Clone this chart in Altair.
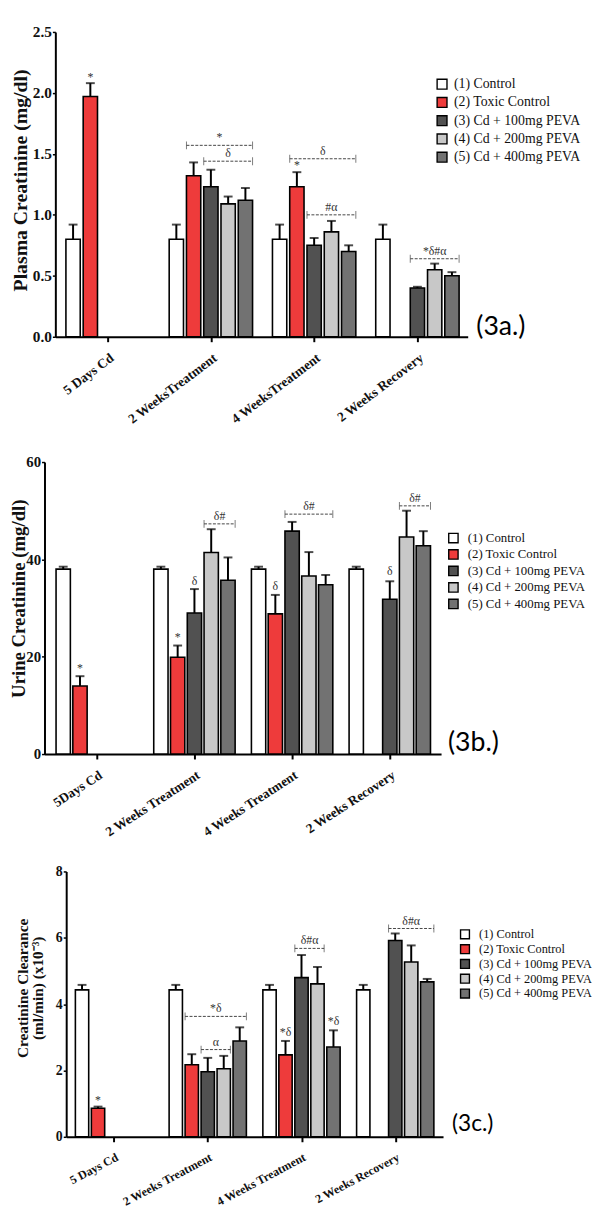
import json
import altair as alt
import pandas as pd

SERIF = "Liberation Serif"

series = ["(1) Control", "(2) Toxic Control", "(3) Cd + 100mg PEVA",
          "(4) Cd + 200mg PEVA", "(5) Cd + 400mg PEVA"]
series_fill = ["#ffffff", "#ee3b3b", "#515151", "#c8c8c8", "#727272"]

# ---------------- Panel 3a : Plasma creatinine ----------------
groups_a = ["5 Days Cd", "2 WeeksTreatment", "4 WeeksTreatment", "2 Weeks Recovery"]
mean_a = [
    [0.80, 0.80, 0.80, 0.80],
    [1.97, 1.32, 1.23, None],
    [None, 1.23, 0.75, 0.40],
    [None, 1.09, 0.86, 0.55],
    [None, 1.12, 0.70, 0.50],
]
sem_a = [
    [0.12, 0.12, 0.12, 0.12],
    [0.11, 0.11, 0.12, None],
    [None, 0.14, 0.06, 0.01],
    [None, 0.06, 0.09, 0.05],
    [None, 0.10, 0.05, 0.03],
]
# (group, bar, y, text)
marks_a = [(0, 1, 2.13, "*"), (2, 1, 1.41, "*")]
# (group, first bar, last bar, y, text)
brackets_a = [(1, 1, 4, 1.57, "*"), (1, 2, 4, 1.44, "δ"), (2, 1, 4, 1.46, "δ"),
              (2, 2, 4, 1.00, "#α"), (3, 2, 4, 0.64, "*δ#α")]

# ---------------- Panel 3b : Urine creatinine ----------------
groups_b = ["5Days Cd", "2 Weeks Treatment", "4 Weeks Treatment", "2 Weeks Recovery"]
mean_b = [
    [38.0, 38.0, 38.0, 38.0],
    [14.0, 19.9, 28.8, None],
    [None, 29.0, 45.8, 31.8],
    [None, 41.4, 36.6, 44.6],
    [None, 35.7, 34.8, 42.8],
]
sem_b = [
    [0.5, 0.5, 0.5, 0.5],
    [2.0, 2.4, 3.9, None],
    [None, 4.9, 1.9, 3.7],
    [None, 4.8, 4.9, 5.4],
    [None, 4.7, 2.0, 3.0],
]
marks_b = [(0, 1, 17.6, "*"), (1, 1, 24.0, "*"), (1, 2, 35.6, "δ"),
           (2, 1, 34.6, "δ"), (3, 2, 37.6, "δ")]
brackets_b = [(1, 3, 4, 47.3, "δ#"), (2, 2, 4, 49.3, "δ#"), (3, 3, 4, 51.0, "δ#")]

# ---------------- Panel 3c : Creatinine clearance ----------------
groups_c = ["5 Days Cd", "2 Weeks Treatment", "4 Weeks Treatment", "2 Weeks Recovery"]
mean_c = [
    [4.43, 4.43, 4.43, 4.43],
    [0.86, 2.17, 2.47, None],
    [None, 1.96, 4.80, 5.92],
    [None, 2.05, 4.61, 5.27],
    [None, 2.89, 2.71, 4.67],
]
sem_c = [
    [0.15, 0.15, 0.15, 0.15],
    [0.05, 0.32, 0.42, None],
    [None, 0.42, 0.68, 0.21],
    [None, 0.39, 0.51, 0.50],
    [None, 0.41, 0.50, 0.09],
]
marks_c = [(0, 1, 1.12, "*"), (2, 1, 3.15, "*δ"), (2, 4, 3.50, "*δ")]
brackets_c = [(1, 1, 4, 3.63, "*δ"), (1, 2, 3, 2.63, "α"),
              (2, 2, 3, 5.68, "δ#α"), (3, 2, 4, 6.28, "δ#α")]

# ---------------- layout settings per panel ----------------
PA = dict(width=418, height=309, xdom=[-0.006, 3.987], group_px=104.67, step_px=17.5, bar_px=14.5,
          ymax=2.5, yticks=[0, 0.5, 1, 1.5, 2, 2.5], yfmt=".1f",
          ytitle="Plasma Creatinine (mg/dl)", ytitleFS=20, titleX=-35, titleY=150, titleLH=18,
          ylabFS=15.5, xlabFS=13.6, xangle=323,
          legX=433, legY=46, legFS=14, symS=100, rowPad=2.5, labOff=5,
          lab="(3a.)", labFS=27, lab_x=4.07, lab_y=0.08, sp_w=2, sp_h=429)
PB = dict(width=402, height=296, xdom=[-0.035, 4.025], group_px=99, step_px=17, bar_px=14.5,
          ymax=60, yticks=[0, 20, 40, 60], yfmt="d",
          ytitle="Urine Creatinine (mg/dl)", ytitleFS=19, titleX=-26.5, titleY=138, titleLH=19,
          ylabFS=15, xlabFS=13.5, xangle=327,
          legX=445, legY=70.5, legFS=13, symS=90, rowPad=-0.3, labOff=8,
          lab="(3b.)", labFS=27, lab_x=4.096, lab_y=2.2, sp_w=1, sp_h=408)
PC = dict(width=382, height=269, xdom=[-0.01, 4.01], group_px=95, step_px=16.2, bar_px=13.5,
          ymax=8, yticks=[0, 2, 4, 6, 8], yfmt="d",
          ytitle=["Creatinine Clearance", "(ml/min) (x10⁻³)"], ytitleFS=15.5, titleX=-44,
          titleY=118, titleLH=15,
          ylabFS=14, xlabFS=12.2, xangle=332,
          legX=457, legY=57.5, legFS=12.5, symS=81, rowPad=-1, labOff=8,
          lab="(3c.)", labFS=23, lab_x=4.105, lab_y=0.39, sp_w=8, sp_h=1)


def long_table(means, sems):
    rows = []
    for b, name in enumerate(series):
        for g in range(4):
            m = means[b][g]
            if m is None:
                continue
            rows.append({"g": g, "b": b, "series": name, "mean": m, "upper": m + sems[b][g]})
    return pd.DataFrame(rows)


def panel(groups, means, sems, marks, brackets, P):
    G = P["group_px"]
    S = P["step_px"] / G
    W = P["bar_px"] / G
    xscale = alt.Scale(domain=P["xdom"], nice=False, zero=False)
    yscale = alt.Scale(domain=[0, P["ymax"]], nice=False, zero=True)

    xaxis = alt.Axis(
        values=[0.5, 1.5, 2.5, 3.5],
        labelExpr=json.dumps(groups) + "[floor(datum.value)]",
        title=None, grid=False, labelAngle=P["xangle"], labelAlign="right", labelBaseline="top",
        labelFont=SERIF, labelFontWeight="bold", labelFontSize=P["xlabFS"], labelColor="#111",
        labelPadding=9, labelOverlap=False, labelFlush=False,
        tickSize=5, tickWidth=2, tickColor="black", domainColor="black", domainWidth=2,
    )
    yaxis = alt.Axis(
        values=P["yticks"], format=P["yfmt"], grid=False,
        labelFont=SERIF, labelFontWeight="bold", labelFontSize=P["ylabFS"], labelColor="#111",
        labelPadding=1, tickSize=3, tickWidth=1.5, tickColor="black",
        domainColor="black", domainWidth=2,
        title=P["ytitle"], titleFont=SERIF, titleFontWeight="bold", titleFontSize=P["ytitleFS"],
        titleColor="#111", titleAngle=270, titleAlign="center", titleBaseline="middle",
        titleX=P["titleX"], titleY=P["titleY"], titleLineHeight=P["titleLH"],
    )

    def X(f):
        return alt.X(f, type="quantitative", scale=xscale, axis=xaxis)

    def Y(f):
        return alt.Y(f, type="quantitative", scale=yscale, axis=yaxis)

    legend = alt.Legend(
        title=None, orient="none", legendX=P["legX"], legendY=P["legY"],
        labelFont=SERIF, labelFontSize=P["legFS"], labelColor="#111", labelLimit=400,
        symbolType="square", symbolSize=P["symS"], symbolStrokeColor="black",
        symbolStrokeWidth=1.4, rowPadding=P["rowPad"], labelOffset=P["labOff"], padding=0,
    )

    df = long_table(means, sems)
    base = alt.Chart(df).transform_calculate(
        xc=f"datum.g + 0.5 + (datum.b - 2) * {S}",
        x0=f"datum.xc - {W / 2}",
        x1=f"datum.xc + {W / 2}",
        base="0",
    )

    bars = base.mark_bar(stroke="black", strokeWidth=1.6).encode(
        x=X("x0"),
        x2="x1:Q",
        y=Y("mean"),
        y2="base:Q",
        fill=alt.Fill("series:N", scale=alt.Scale(domain=series, range=series_fill), legend=legend),
    )
    err = base.mark_rule(color="black", strokeWidth=2).encode(x=X("xc"), y=Y("mean"), y2="upper:Q")
    caps = base.mark_tick(color="black", orient="horizontal", size=9, thickness=2).encode(
        x=X("xc"), y=Y("upper"))

    bdf = pd.DataFrame(brackets, columns=["g", "bs", "be", "y", "text"])
    bbase = alt.Chart(bdf).transform_calculate(
        xs=f"datum.g + 0.5 + (datum.bs - 2) * {S} - {W / 2}",
        xe=f"datum.g + 0.5 + (datum.be - 2) * {S} + {W / 2}",
        xm="(datum.xs + datum.xe) / 2",
    )
    bline = bbase.mark_rule(color="#444", strokeWidth=1, strokeDash=[3, 1.5]).encode(
        x=X("xs"), x2="xe:Q", y=Y("y"))
    bend1 = bbase.mark_tick(color="#444", orient="vertical", size=8, thickness=1).encode(
        x=X("xs"), y=Y("y"))
    bend2 = bbase.mark_tick(color="#444", orient="vertical", size=8, thickness=1).encode(
        x=X("xe"), y=Y("y"))
    btext = bbase.mark_text(font=SERIF, fontSize=12, color="#333", baseline="bottom", dy=-1).encode(
        x=X("xm"), y=Y("y"), text="text:N")

    mdf = pd.DataFrame(marks, columns=["g", "b", "y", "text"])
    mtext = alt.Chart(mdf).transform_calculate(
        xc=f"datum.g + 0.5 + (datum.b - 2) * {S}"
    ).mark_text(font=SERIF, fontSize=12, color="#333", baseline="middle").encode(
        x=X("xc"), y=Y("y"), text="text:N")

    ldf = pd.DataFrame({"x": [P["lab_x"]], "y": [P["lab_y"]], "t": [P["lab"]]})
    ltext = alt.Chart(ldf).mark_text(font="Lato", fontSize=P["labFS"], color="black",
                                     align="left", baseline="middle").encode(
        x=X("x"), y=Y("y"), text="t:N")

    return alt.layer(bars, err, caps, bline, bend1, bend2, btext, mtext, ltext).properties(
        width=P["width"], height=P["height"])


def spacer(w, h):
    return alt.Chart(pd.DataFrame({"s": [""]})).mark_text().encode(text="s:N").properties(
        width=w, height=h)


def row(ch, P):
    return alt.hconcat(spacer(P["sp_w"], P["sp_h"]), ch, spacing=0)


pa = panel(groups_a, mean_a, sem_a, marks_a, brackets_a, PA)
pb = panel(groups_b, mean_b, sem_b, marks_b, brackets_b, PB)
pc = panel(groups_c, mean_c, sem_c, marks_c, brackets_c, PC)

chart = alt.vconcat(
    row(pa, PA), row(pb, PB), row(pc, PC),
    spacing=0,
).resolve_scale(fill="independent").resolve_legend(fill="independent").properties(
    padding={"left": 0, "top": 9, "right": 0, "bottom": 0},
    background="white",
).configure_view(stroke=None)

chart.save("out.html", embed_options={"renderer": "svg", "actions": False})
